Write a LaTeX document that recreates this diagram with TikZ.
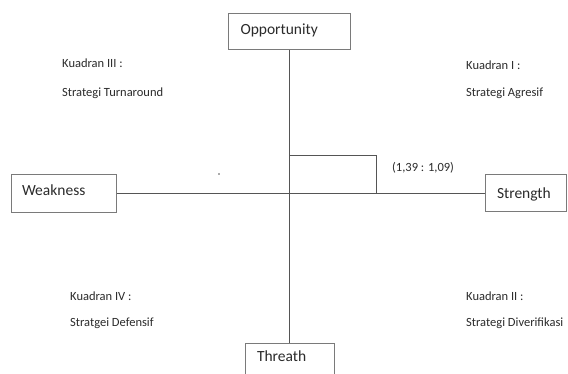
\documentclass[tikz,border=0pt]{standalone}
\usepackage{fontspec}
\setmainfont{Carlito}
\definecolor{boxline}{HTML}{7A7A7A}
\definecolor{axisline}{HTML}{555555}
\definecolor{txt}{HTML}{2B2B2B}
\begin{document}
\begin{tikzpicture}[x=1pt,y=-1pt,
  lbl/.style={draw=boxline,line width=1pt,rectangle,inner sep=0pt,anchor=center,
    font=\fontsize{15.5}{18}\selectfont,text=txt,align=left},
  quad/.style={anchor=west,inner sep=0pt,font=\fontsize{12.5}{15}\selectfont,text=txt},
  axis/.style={draw=axisline,line width=0.9pt}]
\useasboundingbox[fill=white] (0,0) rectangle (568,374);
% boxes
\node[lbl,minimum width=122pt,minimum height=36pt,text width=98pt,text depth=5pt] (opp) at (289.5,32) {Opportunity};
\node[lbl,minimum width=105pt,minimum height=38pt,text width=83pt,text depth=6pt] (weak) at (63.5,193.5) {Weakness};
\node[lbl,minimum width=81pt,minimum height=37pt,text width=57pt,text depth=1pt] (str) at (525.5,193.5) {Strength};
\node[lbl,minimum width=89pt,minimum height=36pt,text width=65pt,text depth=9pt] (thr) at (289.5,361) {Threath};
% axes
\draw[axis] (opp.south) -- (thr.north);
\draw[axis] (weak.east) -- (str.west);
% position rectangle
\coordinate (pt) at (376,155);
\draw[axis] (opp.south |- pt) -- (pt) -- (pt |- weak.east);
\node[quad] (coord) at (392,168) {(1,39 : 1,09)};
% dot
\fill[axisline] (219,174) circle (0.9pt);
% quadrant labels
\node[quad] (k3) at (62,63) {Kuadran III :};
\node[quad] (s3) at (62,93) {Strategi Turnaround};
\node[quad] (k1) at (466,65) {Kuadran I :};
\node[quad] (s1) at (466,93) {Strategi Agresif};
\node[quad] (k4) at (70,296) {Kuadran IV :};
\node[quad] (s4) at (70,323) {Stratgei Defensif};
\node[quad] (k2) at (466,296) {Kuadran II :};
\node[quad] (s2) at (466,323) {Strategi Diverifikasi};
\end{tikzpicture}
\end{document}
